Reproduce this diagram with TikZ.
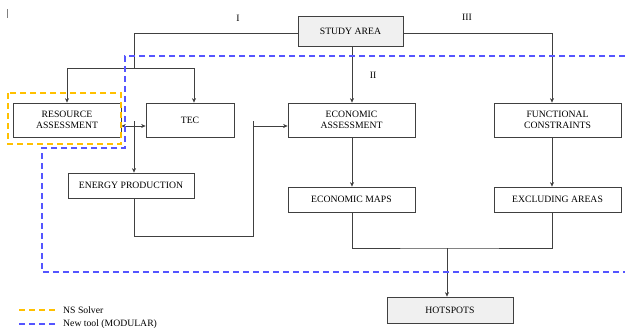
\documentclass[tikz,border=0pt]{standalone}
\usepackage{fontspec}
\setmainfont{Liberation Serif}
\usetikzlibrary{arrows.meta}
\definecolor{boxgray}{HTML}{F0F0F0}
\definecolor{linegray}{HTML}{404040}
\definecolor{nsorange}{HTML}{FFC000}
\definecolor{modblue}{HTML}{5555FF}
\tikzset{
  blk/.style={draw=linegray, line width=0.7pt, align=center, inner sep=0pt,
    font=\fontsize{9.7}{10.5}\selectfont},
  lnk/.style={draw=linegray, line width=0.7pt},
  arr/.style={lnk, -{Stealth[length=4.5pt,width=4pt]}},
  dblarr/.style={lnk, {Stealth[length=4.5pt,width=4pt]}-{Stealth[length=4.5pt,width=4pt]}},
  nsline/.style={draw=nsorange, line width=1.1pt, dash pattern=on 6pt off 4pt},
  modline/.style={draw=modblue, line width=1.1pt, dash pattern=on 6pt off 4pt},
  lbl/.style={inner sep=0pt, font=\fontsize{9.7}{10.5}\selectfont}
}

\begin{document}
\begin{tikzpicture}[x=1pt, y=-1pt]
  \path[fill=white, use as bounding box] (0,0) rectangle (625,332);
  \draw[gray, line width=1pt] (7.5,9) -- (7.5,18);

  % boxes
  \node[blk, fill=boxgray, minimum width=105pt, minimum height=30pt] (study) at (350.5,31) {STUDY AREA};
  \node[blk, minimum width=108pt, minimum height=34pt] (res) at (67,120) {RESOURCE\\ASSESSMENT};
  \node[blk, minimum width=88pt, minimum height=34pt] (tec) at (190,120) {TEC};
  \node[blk, minimum width=127pt, minimum height=34pt] (ecoass) at (351.5,120) {ECONOMIC\\ASSESSMENT};
  \node[blk, minimum width=127pt, minimum height=34pt] (func) at (557.5,120) {FUNCTIONAL\\CONSTRAINTS};
  \node[blk, minimum width=126pt, minimum height=25pt] (energy) at (131,185.5) {ENERGY PRODUCTION};
  \node[blk, minimum width=127pt, minimum height=25pt] (ecomaps) at (351.5,199.5) {ECONOMIC MAPS};
  \node[blk, minimum width=127pt, minimum height=25pt] (excl) at (557.5,199.5) {EXCLUDING AREAS};
  \node[blk, fill=boxgray, minimum width=126pt, minimum height=26pt] (hot) at (450,310) {HOTSPOTS};

  % branch labels
  \node[lbl] (lbI) at (238,18) {I};
  \node[lbl] (lbII) at (373,75) {II};
  \node[lbl] (lbIII) at (467,17) {III};

  % connectors
  \coordinate (splitI) at (134,68);
  \coordinate (tecdown) at (134,121);
  \coordinate (feedtop) at (253,121);
  \coordinate (feedmid) at (253,126);
  \coordinate (feedbot) at (253,236);
  \coordinate (merge) at (447,248);
  \draw[lnk] ([yshift=-2]study.west) -| (splitI);
  \draw[arr] (splitI) -| (res.north);
  \draw[arr] (splitI) -| ([xshift=4]tec.north);
  \draw[arr] ([yshift=-2]study.east) -| ([xshift=-5.5]func.north);
  \draw[arr] ([xshift=1.5]study.south) -- ([xshift=0.5]ecoass.north);
  \draw[dblarr] (res.east |- feedmid) -- (tec.west |- feedmid);
  \draw[arr] (tecdown) -- (tecdown |- energy.north);
  \draw[lnk] (tecdown |- energy.south) |- (feedbot) -- (feedtop);
  \draw[arr] (feedmid) -- (feedmid -| ecoass.west);
  \draw[arr] ([xshift=0.5]ecoass.south) -- ([xshift=0.5]ecomaps.north);
  \draw[arr] ([xshift=-5.5]func.south) -- ([xshift=-5.5]excl.north);
  \draw[lnk] ([xshift=0.5]ecomaps.south) |- (merge) -| ([xshift=-5.5]excl.south);
  \draw[arr] (merge) -- (merge |- hot.north);

  % tool boundaries
  \draw[modline] (625,56) -- (125,56) -- (125,148) -- (42,148) -- (42,272) -- (625,272);
  \draw[nsline] (8,93) rectangle (121,144);

  % legend
  \node[lbl, anchor=west] (nstxt) at (63,310) {NS Solver};
  \node[lbl, anchor=west] (modtxt) at (63,324) {New tool (MODULAR)};
  \draw[nsline] (19,310) -- ([xshift=-6]nstxt.west);
  \draw[modline] (19,324) -- ([xshift=-6]modtxt.west);
\end{tikzpicture}
\end{document}
